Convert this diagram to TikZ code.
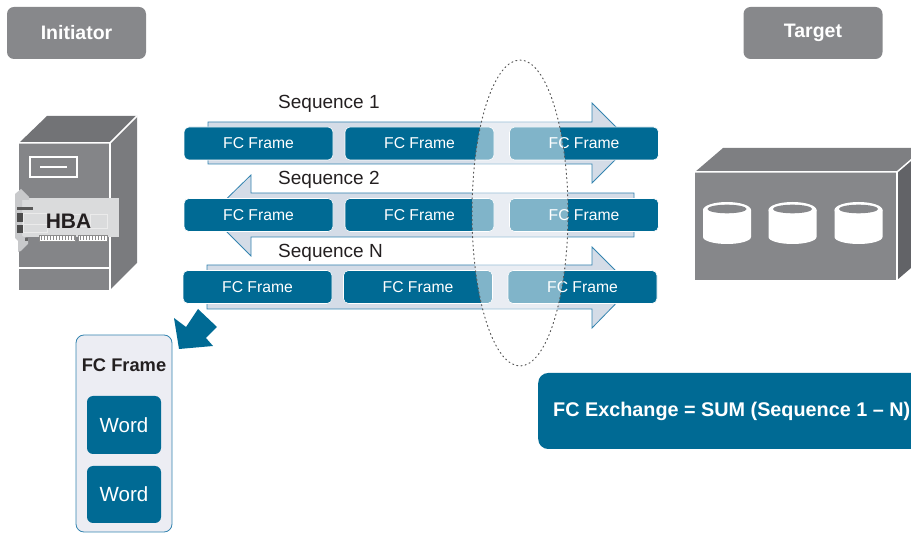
\documentclass[tikz,border=0pt]{standalone}
\usepackage{fontspec}
\setmainfont{Liberation Sans}
\definecolor{fcblue}{RGB}{0,106,148}
\definecolor{arrowfill}{RGB}{212,220,231}
\definecolor{arrowline}{RGB}{52,132,176}
\definecolor{hdrgray}{RGB}{135,136,139}
\definecolor{frontgray}{RGB}{132,133,136}
\definecolor{topgray}{RGB}{114,115,118}
\definecolor{sidegray}{RGB}{122,123,126}
\definecolor{stfront}{RGB}{134,135,138}
\definecolor{sttop}{RGB}{126,127,130}
\definecolor{stside}{RGB}{98,99,103}
\definecolor{cardfill}{RGB}{236,237,243}
\definecolor{hbaplate}{RGB}{218,219,220}
\definecolor{bracket}{RGB}{200,201,203}
\definecolor{inkdark}{RGB}{35,31,32}
\begin{document}
\begin{tikzpicture}[x=1pt,y=-1pt,
  hdr/.style={fill=hdrgray, rounded corners=7pt, minimum width=139pt, minimum height=52pt,
    inner sep=0pt, text=white, font=\fontsize{19.5}{21}\selectfont\bfseries},
  frame/.style={fill=fcblue, draw=white, line width=0.6pt, rounded corners=5pt,
    minimum width=149pt, minimum height=33pt, inner sep=0pt, text=white,
    font=\fontsize{15.7}{17}\selectfont},
  seqarrow/.style={fill=arrowfill, draw=arrowline, line width=0.8pt, line join=miter},
  seqlabel/.style={anchor=base west, inner sep=0pt, text=inkdark, font=\fontsize{19}{21}\selectfont},
  wordbox/.style={fill=fcblue, rounded corners=6pt, minimum width=74pt, inner sep=0pt,
    text=white, font=\fontsize{20.5}{22}\selectfont},
  card/.style={fill=cardfill, draw=arrowline, line width=0.8pt, rounded corners=8pt,
    minimum width=96pt, minimum height=197pt, inner sep=0pt},
  edge/.style={draw=white, line width=1.5pt},
  haze/.style={fill=white, fill opacity=0.5},
  ring/.style={draw=black!65, line width=1pt, dash pattern=on 1.1pt off 3.2pt, line cap=round}
]
\useasboundingbox (0,0) rectangle (911,534);
\clip (0,0) rectangle (911,534);

% ---------- header tags ----------
\node[hdr] (init) at (76.5,33) {Initiator};
\node[hdr] (targ) at (813,33) {Target};

% ---------- server tower ----------
\fill[topgray] (19,143) -- (47,116) -- (137,116) -- (110,143) -- cycle;
\fill[sidegray] (110,143) -- (137,116) -- (137,263) -- (110,290) -- cycle;
\fill[frontgray] (19,143) rectangle (110,290);
\draw[edge] (19,143) -- (110,143) -- (137,116);
\draw[edge] (110,143) -- (110,290);
\draw[edge] (19,268) -- (110,268);
\draw[edge] (30,157) rectangle (77,177);
\draw[edge] (40,167) -- (67,167);

% ---------- HBA card ----------
\fill[hbaplate] (20,198) rectangle (119,237);
\fill[bracket] (15,194) -- (21,189) -- (29,197) -- (29,200) -- (22,200) -- (22,236)
  -- (28,239) -- (28,244) -- (21,251) -- (18,252) -- (18,241) -- (15,238) -- cycle;
\fill[black!65] (17,207) rectangle (33,210);
\fill[black!70] (17,213) rectangle (23,222);
\fill[black!70] (17,225) rectangle (23,233);
\fill[black!60] (25,238) rectangle (28,241);
\begin{scope}[draw=white!92!black, line width=0.6pt]
  \draw (23,213) rectangle (47,224);
  \draw (23,224) rectangle (47,232);
  \draw (72,214) rectangle (85,226);
  \draw (90,214) rectangle (107,228);
\end{scope}
\foreach \xa/\xb in {39/75, 78/107} {
  \fill[white] (\xa,235) rectangle (\xb,241);
  \draw[black!45, line width=0.5pt] (\xa,235) rectangle (\xb,241);
  \foreach \t in {0,...,20} {
    \pgfmathsetmacro{\xx}{\xa+2+3*\t}
    \ifdim\xx pt<\xb pt \draw[black!45, line width=0.5pt] (\xx,236) -- (\xx,240); \fi
  }
}
\node[anchor=base, inner sep=0pt, text=inkdark, font=\fontsize{21}{23}\selectfont\bfseries]
  (hba) at (68.5,229) {HBA};

% ---------- storage array ----------
\fill[sttop] (695,172) -- (723,148) -- (925,148) -- (897,172) -- cycle;
\fill[stside] (897,172) -- (925,148) -- (925,256) -- (897,280) -- cycle;
\fill[stfront] (695,172) rectangle (897,280);
\draw[edge] (695,172) -- (897,172) -- (925,148);
\draw[edge] (897,172) -- (897,280);
\foreach \cx in {727,792.5,858.5} {
  \fill[white] (\cx-24,210) -- (\cx-24,237)
    arc[start angle=180, end angle=360, x radius=24pt, y radius=7pt] -- (\cx+24,210) -- cycle;
  \fill[white] (\cx,210) ellipse[x radius=24pt, y radius=8pt];
  \fill[stfront] (\cx,209) ellipse[x radius=19.5pt, y radius=4.3pt];
}

% ---------- sequence arrows ----------
\draw[seqarrow] (208,122) -- (592,122) -- (592,103) -- (632,143) -- (592,183) -- (592,164) -- (208,164) -- cycle;
\draw[seqarrow] (634,193) -- (251,193) -- (251,175) -- (210,215) -- (251,256) -- (251,237) -- (634,237) -- cycle;
\draw[seqarrow] (207,265) -- (592,265) -- (592,247) -- (632,287) -- (592,328) -- (592,309) -- (207,309) -- cycle;

\node[seqlabel] (s1) at (278,109) {Sequence 1};
\node[seqlabel] (s2) at (278,185) {Sequence 2};
\node[seqlabel] (sn) at (278,258) {Sequence N};

% ---------- frames ----------
\node[frame] (f11) at (258.5,143.5) {FC Frame};
\node[frame] (f12) at (419.5,143.5) {FC Frame};
\node[frame] (f13) at (584,143.5) {FC Frame};
\node[frame] (f21) at (258.5,215) {FC Frame};
\node[frame] (f22) at (419.5,215) {FC Frame};
\node[frame] (f23) at (584,215) {FC Frame};
\node[frame] (f31) at (257.5,287) {FC Frame};
\node[frame] (f32) at (418,287) {FC Frame};
\node[frame] (f33) at (582.5,287) {FC Frame};

% ---------- exchange boundary ----------
\fill[haze] (520,213) ellipse[x radius=48pt, y radius=153pt];
\draw[ring] (520,213) ellipse[x radius=48pt, y radius=153pt];

% ---------- zoom pointer ----------
\fill[fcblue] (179,349) -- (174,318) -- (186,327) -- (198,309) -- (217,327) -- (206,338) -- (213,346) -- cycle;

% ---------- frame detail card ----------
\node[card] (card) at (124,433.5) {};
\node[anchor=base, inner sep=0pt, text=inkdark, font=\fontsize{18.3}{20}\selectfont\bfseries]
  (cardtitle) at (124,372) {FC Frame};
\node[wordbox, minimum height=58pt] (w1) at (124,425) {Word};
\node[wordbox, minimum height=57pt] (w2) at (124,494.5) {Word};

% ---------- exchange summary ----------
\node[fill=fcblue, rounded corners=10pt, minimum width=402pt, minimum height=76pt,
  inner sep=0pt, anchor=west] (exch) at (538,411) {};
\node[anchor=base west, inner sep=0pt, text=white, font=\fontsize{19.8}{21}\selectfont\bfseries]
  (exchtext) at (553,417) {FC Exchange = SUM (Sequence 1 – N)};
\end{tikzpicture}
\end{document}
